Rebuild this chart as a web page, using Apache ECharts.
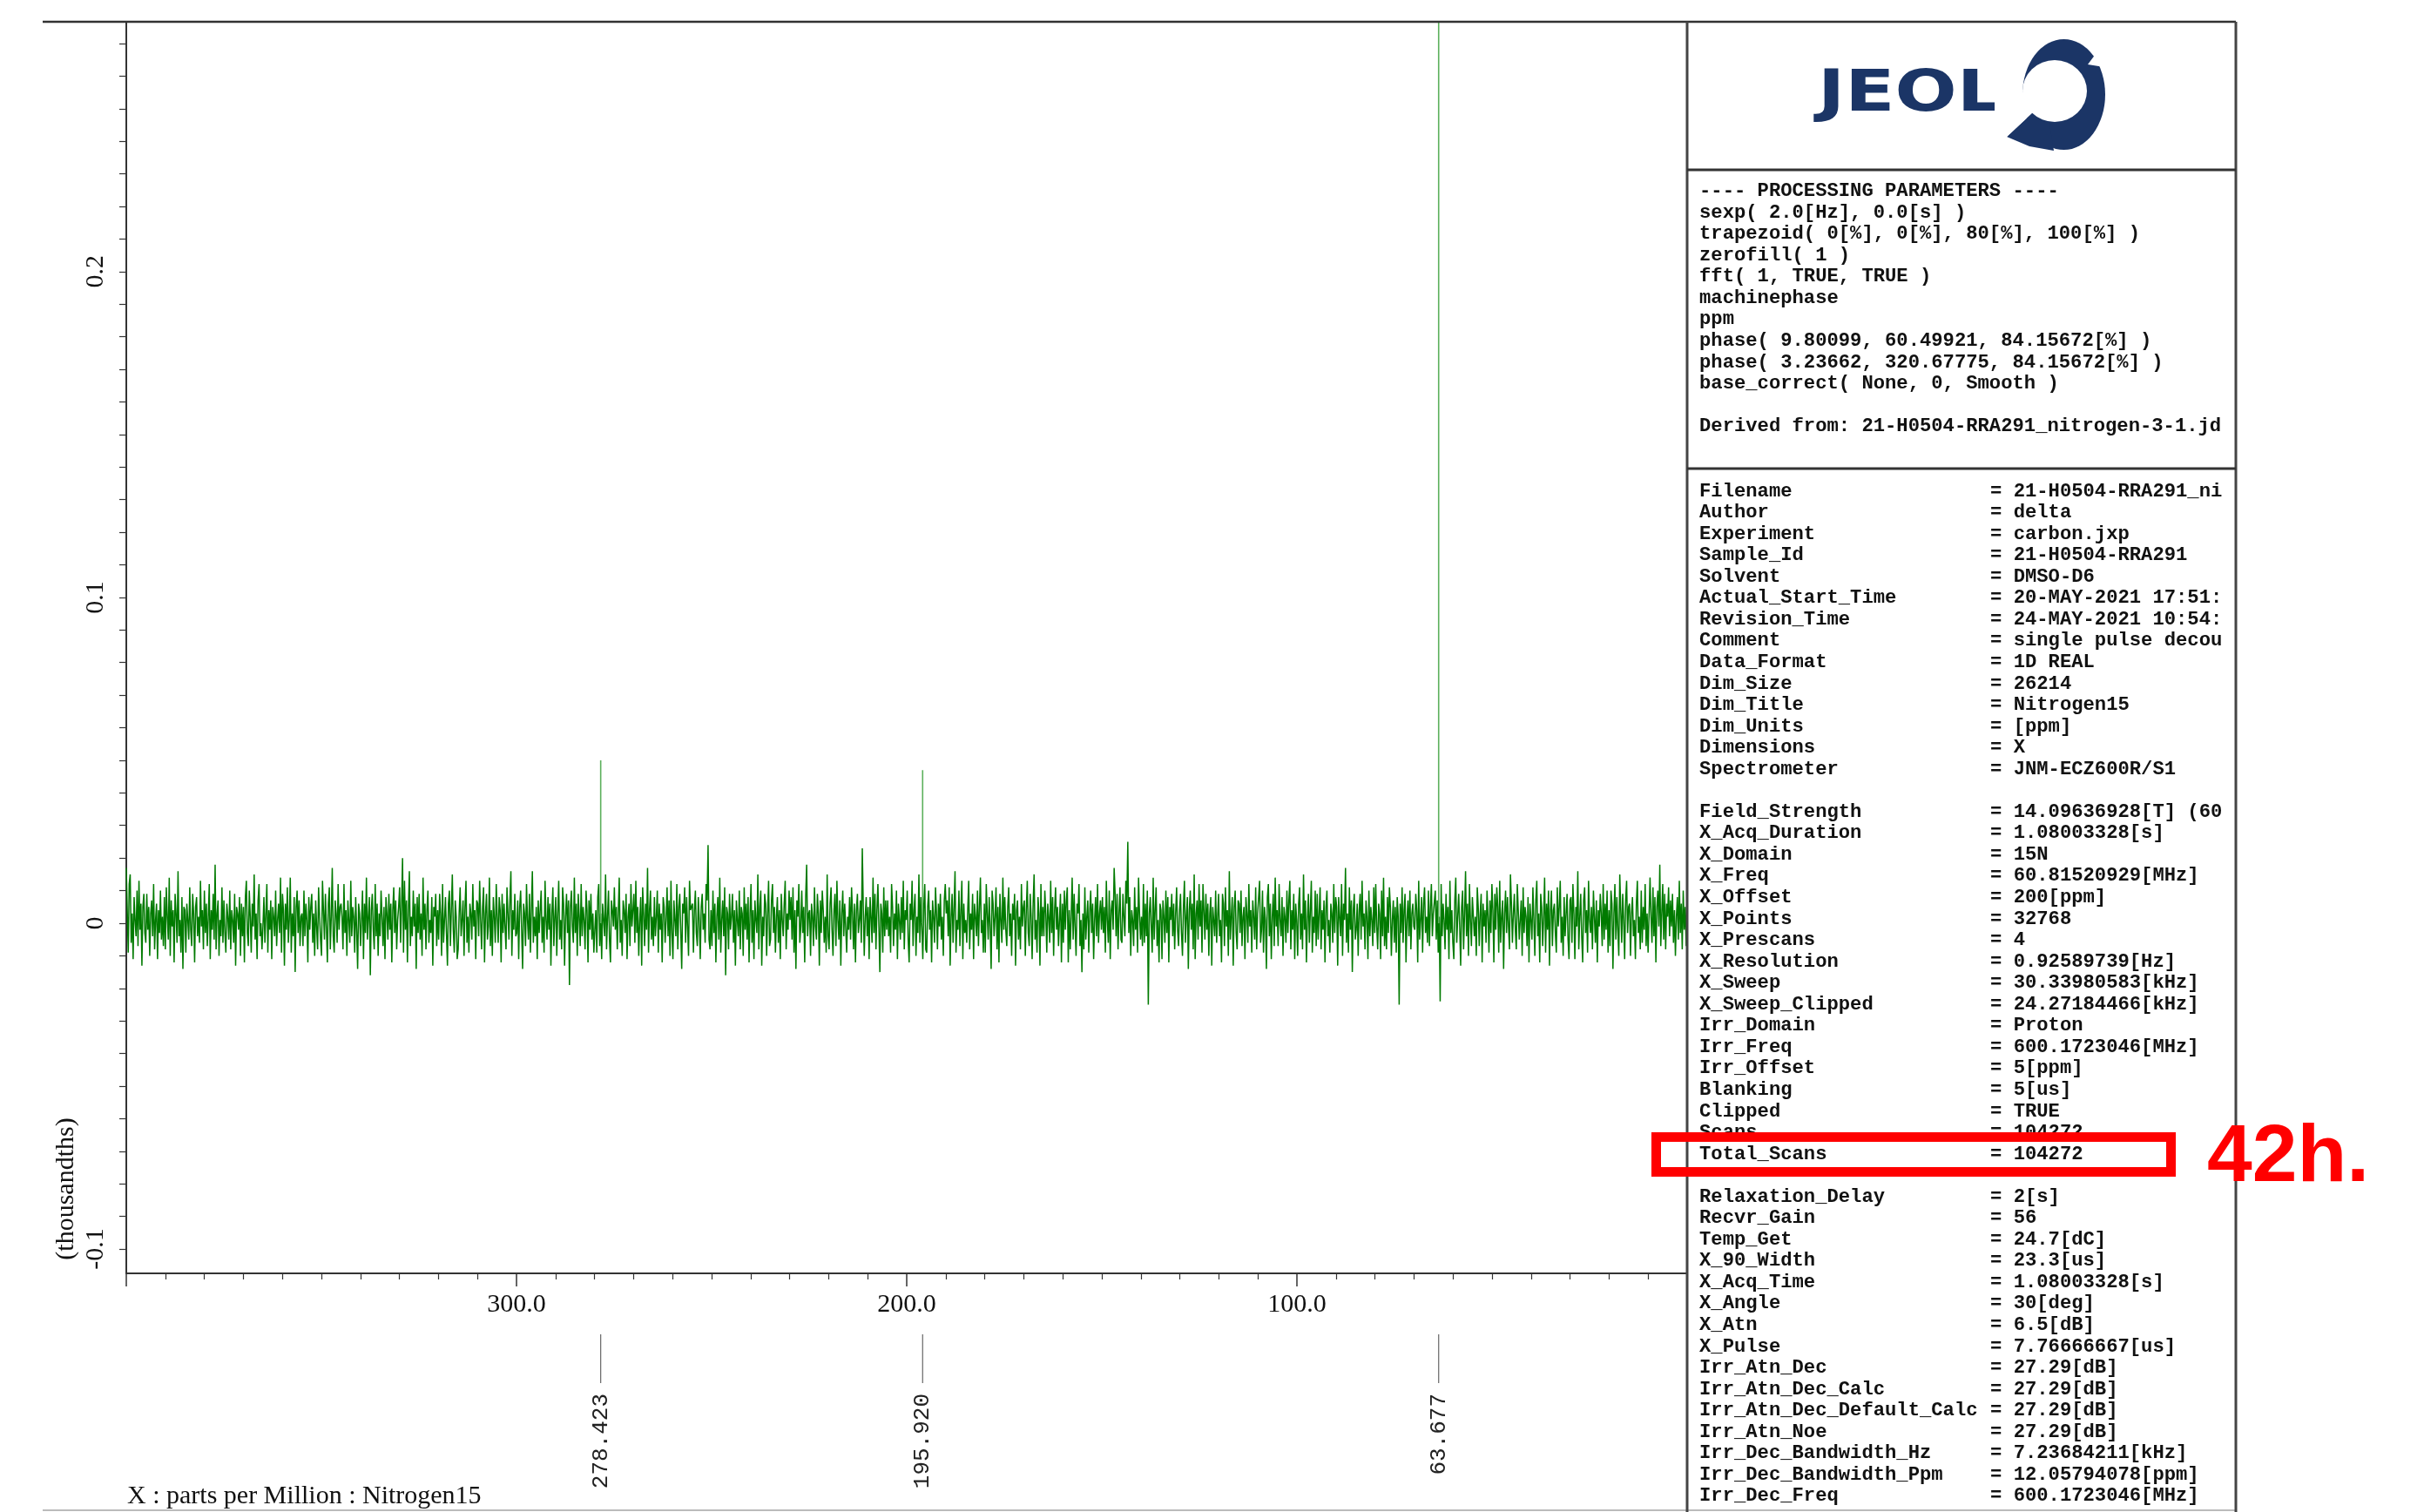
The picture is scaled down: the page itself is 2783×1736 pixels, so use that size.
<!DOCTYPE html>
<html><head><meta charset="utf-8">
<script src="https://cdn.jsdelivr.net/npm/echarts/dist/echarts.min.js"></script>
<style>html,body{margin:0;padding:0;background:#fff}#c{width:2783px;height:1736px}</style>
</head><body><div id="c"></div>
<script>
// ---- data ----
const ppmRange = [0, 400];
const xTickValues = [300, 200, 100];
const yTickValues = [-0.1, 0, 0.1, 0.2];
const peakPpm = [278.423, 195.920, 63.677];
const peakLabels = ['278.423', '195.920', '63.677'];
const peakHeight = [0.050, 0.047, 0.28];
const noise = [
.017,.004,-.009,.012,.015,-.006,.003,-.011,.008,.001,-.004,.010,-.007,.013,-.002,.006,-.013,.005,.009,-.003,
-.006,.009,-.002,.005,-.010,.003,.007,-.004,.012,-.008,.001,.006,-.011,.004,-.003,.010,-.005,.002,-.007,.008,
-.008,.011,.002,-.005,.014,-.010,.007,-.001,.004,-.012,.009,.003,-.006,.016,-.004,.001,-.009,.008,-.014,.005,
.004,-.009,.006,.001,-.005,.011,-.002,-.007,.009,.003,-.012,.005,.008,-.004,.002,-.006,.013,-.001,.004,-.008,
.010,-.003,.006,-.007,.002,.012,-.011,.004,-.002,.009,-.005,.018,-.008,.003,.007,-.010,.001,-.004,.011,-.006,
.007,-.003,-.009,.006,.002,-.005,.010,-.008,.004,.001,-.006,.009,-.013,.005,.003,-.002,.008,-.010,.006,-.004,
.005,-.012,.008,.013,-.003,-.007,.010,.002,-.009,.006,-.001,.015,-.005,.003,-.011,.007,.012,-.004,0,-.008,
-.001,.008,-.006,.003,.012,-.009,.004,-.002,.007,-.011,.005,.002,-.004,.010,-.007,.001,.006,-.003,.014,-.009,
.009,.004,-.013,.006,-.002,.011,-.006,.001,.014,-.009,.003,-.004,.008,-.015,.005,.010,-.003,.007,-.007,.002,
.003,-.007,.010,-.004,.006,.001,-.012,.008,-.002,.005,.009,-.006,.003,-.010,.007,-.001,-.008,.011,.002,-.005,
-.010,.013,.004,-.005,.009,-.001,-.012,.006,.011,-.008,.002,.017,-.004,-.009,.007,.003,-.006,.012,-.002,.005,
.006,.002,-.008,.012,-.003,.004,-.010,.007,.001,-.006,.013,-.004,.005,.002,-.009,.008,-.002,-.014,.006,.003,
-.007,.001,.010,-.011,.006,-.003,.014,-.005,.002,.008,-.016,.004,.009,-.002,-.008,.012,-.004,.006,-.010,.003,
-.004,.010,.002,-.007,.005,-.011,.008,.003,-.005,.009,-.002,.006,-.012,.004,.011,-.003,.007,-.008,.001,.005,
.011,-.006,.005,.020,-.009,.013,-.002,.007,-.012,.004,.016,-.007,.002,-.004,.010,-.001,.006,-.014,.008,-.003,
.009,-.005,.003,-.010,.014,-.002,.006,-.008,.004,.010,-.006,.001,-.003,.008,-.013,.005,.002,.009,-.007,.004,
-.005,.009,.003,-.010,.012,-.006,.001,.008,-.003,-.013,.006,.010,-.007,.004,.015,-.002,-.009,.007,.002,-.011,
-.008,.003,.011,-.004,.001,.007,-.010,.005,.013,-.006,.002,-.009,.006,.003,-.005,.012,-.001,.004,-.011,.007,
.006,-.004,.013,.001,-.008,.005,.011,-.012,.003,.009,-.005,-.001,.014,-.007,.004,-.010,.008,.002,-.006,.012,
.002,-.006,.008,.004,-.012,.009,-.003,.006,-.001,-.008,.011,.003,-.005,.007,.016,-.010,.004,-.002,.009,-.004,
-.003,.007,-.011,.005,.010,-.002,-.014,.006,.003,-.007,.012,.001,-.005,.009,-.009,.004,.016,-.006,.002,-.004,
.005,-.011,.007,-.003,.004,.010,-.006,.002,-.009,.013,.001,-.005,.008,-.002,.006,-.013,.003,.011,-.007,.002,
.008,-.010,.003,.013,-.005,.001,-.008,.011,.006,-.013,.002,.009,-.003,.007,-.019,.005,.010,-.001,-.006,.014,
-.003,.006,-.010,.009,.002,-.007,.012,-.004,.005,.001,-.008,.010,.004,-.012,.007,-.002,.009,-.005,.003,-.009,
-.002,.004,-.009,.008,.012,-.007,.003,-.011,.006,.001,-.004,.015,-.008,.002,.010,-.005,-.012,.007,.004,-.001,
.011,-.002,.005,-.008,.003,.014,-.006,.001,-.010,.007,.004,-.003,.009,-.011,.002,.006,-.007,.012,-.001,.004,
.009,-.006,.013,-.003,.005,-.010,.001,.008,-.013,.011,.003,-.007,.006,-.002,.017,-.009,.004,.010,-.005,.002,
-.007,.008,-.004,.002,.010,-.009,.006,-.002,.003,-.012,.008,.005,-.006,.001,.011,-.004,.007,-.010,.013,-.003,
-.011,.007,.001,-.004,.012,-.008,.005,.009,-.002,-.014,.006,.003,.011,-.006,.008,-.001,-.010,.013,.004,.004,
.006,-.009,.004,.010,-.003,-.007,.008,.001,-.011,.005,.009,-.002,.003,-.006,.012,.007,.024,-.005,-.008,.004,
-.007,.010,-.003,.006,-.012,.002,.008,-.005,.014,-.009,.001,.007,-.004,.011,-.016,.005,.003,-.008,.009,-.002,
.002,.009,-.006,.004,-.013,.007,.001,-.004,.010,-.008,.005,.003,-.010,.011,-.002,.006,-.005,.008,-.012,.003,
.012,-.006,.004,-.011,.007,.001,-.003,.015,-.008,.005,.010,-.013,.002,-.004,.009,.006,-.010,.003,.013,-.007,
-.005,.007,.012,-.003,.005,-.009,.002,.008,-.006,.004,-.011,.009,.001,-.004,.006,.013,-.008,.003,-.002,.010,
.001,.008,-.005,.011,-.009,.004,-.014,.007,.002,.012,-.006,-.001,.010,-.003,.005,-.012,.008,.018,-.004,.003,
.004,-.010,.006,.002,-.007,.011,-.001,-.005,.009,.003,-.013,.007,-.003,.010,.004,-.006,.002,-.009,.015,-.004,
-.008,.006,.011,-.002,-.010,.004,.009,-.007,.013,.001,-.005,.007,-.013,.003,.010,-.004,.006,.006,-.009,.002,
-.002,.008,-.005,.011,.003,-.008,.006,-.012,.004,.009,-.003,.001,.007,-.006,.023,.005,-.010,.002,.008,-.004,
.005,-.011,.008,.002,-.006,.014,-.003,.009,-.008,.004,.012,-.001,-.015,.006,.003,-.009,.011,-.004,.007,-.002,
.007,-.004,.002,-.009,.012,.005,-.007,.003,-.002,.010,-.011,.006,.001,-.005,.008,-.003,.013,-.008,.004,.001,
.010,-.005,-.012,.006,.001,.013,-.007,.004,.009,-.010,.002,-.003,.015,-.006,.008,-.001,-.011,.005,.012,-.008,
-.009,.005,.010,-.002,.004,-.012,.007,.002,-.006,.011,.003,-.008,.006,-.001,.009,-.005,.002,-.010,.007,.012,
.003,.007,-.004,.011,-.013,.002,.009,-.006,.005,.016,-.009,.001,-.002,.010,-.007,.004,.013,-.011,.006,-.003,
.001,-.006,.004,.013,-.008,.003,-.002,.009,-.011,.006,.002,-.004,.010,-.007,.005,.014,-.003,.001,-.009,.006,
-.009,.012,.003,-.005,.008,-.001,-.014,.010,.006,-.004,.002,.011,-.008,.005,-.012,.009,.001,-.006,.014,-.002,
.008,-.002,-.007,.005,.011,-.004,.003,-.010,.006,.001,.009,-.013,.004,.007,-.005,.002,-.008,.012,-.001,.005,
.007,-.010,.004,.013,-.003,-.007,.009,.002,-.011,.006,.015,-.005,.001,-.009,.008,.003,-.013,.012,-.004,.005,
-.004,.010,.003,-.009,.006,.002,-.006,.013,-.003,.008,-.010,.004,.011,-.002,.005,-.007,.001,.009,-.012,.006,
-.006,.010,-.002,.007,.011,-.012,.004,-.008,.002,.014,-.005,.009,-.001,-.010,.006,.003,.012,-.007,.001,-.015,
.003,-.008,.011,-.005,.002,.007,-.009,.004,.010,-.003,.006,-.011,.001,.008,-.004,.012,-.006,.003,.007,-.002,
.008,-.003,.005,-.009,.013,.001,-.006,.010,-.011,.004,.007,-.002,.017,.009,-.004,.009,-.008,.003,.011,-.005,
-.006,.009,.002,-.004,.013,.006,.025,-.003,.008,-.010,.004,.001,-.007,.011,-.002,.005,-.009,.014,.003,-.005,
.002,-.007,.012,-.006,.006,-.004,.010,-.025,.003,.008,-.001,-.009,.014,-.005,.004,.011,-.007,.001,-.012,.006,
.004,-.011,.007,.002,-.006,.010,-.003,.008,-.012,.005,.001,.009,-.004,.006,-.008,.003,.011,-.002,-.007,.004,
.009,-.003,-.010,.005,.013,-.006,.002,.008,-.014,.004,.010,-.002,.006,-.008,.015,-.011,.003,.007,-.005,.012,
-.001,.007,-.009,.012,.004,-.005,.009,-.002,.006,-.010,.003,.008,-.013,.005,.001,-.004,.010,-.006,.002,.009,
-.004,.001,-.012,.009,.006,-.007,.011,-.001,.004,-.010,.016,-.005,.002,.008,-.013,.005,.010,-.003,-.008,.007,
.006,-.003,.010,-.007,.002,.005,-.011,.008,.003,-.006,.012,-.001,.004,-.009,.007,.002,-.005,.011,-.008,.003,
.003,.013,-.006,-.002,.010,-.009,.005,.001,-.014,.008,.012,-.004,.006,-.011,.002,.009,-.007,.014,-.001,.004,
-.007,.012,.001,-.004,.008,-.010,.005,.002,-.006,.010,-.003,.007,.013,-.008,.004,-.002,.009,-.011,.006,.001,
-.010,.006,.011,-.005,.003,-.008,.015,-.002,.007,-.012,.001,.009,-.006,.004,.013,-.009,.002,-.003,.010,-.007,
.009,-.005,.003,.011,-.008,.004,-.002,.007,-.012,.005,.010,-.004,.001,-.009,.006,.003,-.006,.012,-.003,.008,
.005,-.013,.008,.002,-.004,.012,-.010,.006,.001,.017,-.006,.003,-.009,.011,-.002,.007,-.015,.004,.009,-.005,
-.002,.006,-.010,.004,.009,-.005,.013,-.001,.003,-.008,.007,.002,-.011,.010,-.004,.005,.001,-.007,.011,-.003,
.012,-.001,-.008,.006,.003,-.011,.010,-.004,.014,-.007,.002,-.008,.008,-.003,.011,.005,-.010,.001,.007,-.006,
.005,-.009,.008,.002,-.025,.006,-.003,.011,-.006,.004,.009,-.012,.001,.007,-.004,.010,-.008,.003,.006,-.001,
-.002,.009,.004,-.012,.013,-.005,.001,.008,-.009,.006,.011,-.003,.002,-.006,.010,-.007,.005,.012,-.004,.003,
.003,.010,-.005,.007,-.009,.002,-.024,.012,-.004,.006,.001,-.008,.009,-.002,.005,-.011,.013,-.003,.004,-.006,
-.011,.007,.014,-.006,.002,.009,-.001,-.013,.005,.010,-.008,.003,.016,-.004,.006,-.010,.012,.001,-.007,.008,
.008,-.004,.002,-.010,.011,.005,-.007,.003,.009,-.012,.006,-.001,.004,-.006,.010,.002,-.009,.007,-.003,.012,
.004,-.012,.009,-.002,.011,.005,-.009,.013,-.006,.002,.007,-.014,.003,.010,-.003,.008,-.001,-.008,.015,.006,
-.006,.003,.009,-.002,-.008,.012,.004,-.005,.001,.007,-.010,.011,-.003,.005,.002,-.007,.008,-.012,.006,.001,
-.005,.011,.001,-.010,.007,.013,-.004,.003,-.012,.009,.005,-.007,.002,.014,-.009,.006,-.002,.010,-.013,.004,
.010,-.007,.004,.006,-.003,-.009,.011,-.001,.005,.013,-.006,.002,-.010,.008,-.004,.003,.009,-.005,-.011,.007,
.008,-.006,.012,.003,-.011,.005,-.001,.016,-.008,.002,.009,-.004,-.012,.007,.011,-.003,.004,-.009,.013,.001,
-.003,.005,-.008,.010,.002,-.006,.007,-.012,.004,-.001,.009,.003,-.007,.012,-.005,.006,-.002,.010,-.009,.004,
-.007,.010,.006,-.014,.003,.012,-.005,.008,-.002,-.010,.015,.004,-.006,.009,.001,-.011,.007,.013,-.003,.005,
.006,-.010,.003,.008,-.004,.001,-.011,.006,.013,-.003,.002,-.008,.010,-.006,.005,-.002,.012,-.007,.003,-.009,
-.009,.014,.002,-.006,.011,-.004,.008,-.012,.005,.010,-.001,.018,-.007,.003,.012,-.005,.009,-.008,.006,.002,
.011,-.004,.007,-.001,.009,-.006,.004,-.010,.002,.008,-.005,.013,-.003,.006,-.008,.010,-.002,.005,-.007,.009
];
const processingLines = [
'---- PROCESSING PARAMETERS ----',
'sexp( 2.0[Hz], 0.0[s] )',
'trapezoid( 0[%], 0[%], 80[%], 100[%] )',
'zerofill( 1 )',
'fft( 1, TRUE, TRUE )',
'machinephase',
'ppm',
'phase( 9.80099, 60.49921, 84.15672[%] )',
'phase( 3.23662, 320.67775, 84.15672[%] )',
'base_correct( None, 0, Smooth )',
'',
'Derived from: 21-H0504-RRA291_nitrogen-3-1.jd'
];
const paramNames = ['Filename','Author','Experiment','Sample_Id','Solvent','Actual_Start_Time','Revision_Time','Comment','Data_Format','Dim_Size','Dim_Title','Dim_Units','Dimensions','Spectrometer','',
'Field_Strength','X_Acq_Duration','X_Domain','X_Freq','X_Offset','X_Points','X_Prescans','X_Resolution','X_Sweep','X_Sweep_Clipped','Irr_Domain','Irr_Freq','Irr_Offset','Blanking','Clipped','Scans','Total_Scans','',
'Relaxation_Delay','Recvr_Gain','Temp_Get','X_90_Width','X_Acq_Time','X_Angle','X_Atn','X_Pulse','Irr_Atn_Dec','Irr_Atn_Dec_Calc','Irr_Atn_Dec_Default_Calc','Irr_Atn_Noe','Irr_Dec_Bandwidth_Hz','Irr_Dec_Bandwidth_Ppm','Irr_Dec_Freq'];
const paramValues = ['21-H0504-RRA291_ni','delta','carbon.jxp','21-H0504-RRA291','DMSO-D6','20-MAY-2021 17:51:','24-MAY-2021 10:54:','single pulse decou','1D REAL','26214','Nitrogen15','[ppm]','X','JNM-ECZ600R/S1','',
'14.09636928[T] (60','1.08003328[s]','15N','60.81520929[MHz]','200[ppm]','32768','4','0.92589739[Hz]','30.33980583[kHz]','24.27184466[kHz]','Proton','600.1723046[MHz]','5[ppm]','5[us]','TRUE','104272','104272','',
'2[s]','56','24.7[dC]','23.3[us]','1.08003328[s]','30[deg]','6.5[dB]','7.76666667[us]','27.29[dB]','27.29[dB]','27.29[dB]','27.29[dB]','7.23684211[kHz]','12.05794078[ppm]','600.1723046[MHz]'];
const annotationText = '42h.';

// ---- chart ----
const serif = 'Liberation Serif';
const step = (ppmRange[1] - ppmRange[0]) / (noise.length - 1);
const noiseData = noise.map((v, i) => [ppmRange[1] - i * step, v]);
const peakSeries = peakPpm.map((p, k) => ({
  type: 'line', xAxisIndex: 0, yAxisIndex: 0, symbol: 'none', silent: true, z: 3,
  lineStyle: { color: '#5cb05c', width: 1.6 },
  data: [[p, 0], [p, peakHeight[k]]]
}));

const chart = echarts.init(document.getElementById('c'));
chart.setOption({
  animation: false,
  backgroundColor: '#fff',
  grid: [
    { left: 145, top: 25, width: 1792, height: 1437, containLabel: false, outerBoundsMode: 'none' },
    { left: 145, top: 50, width: 1792, height: 1384, containLabel: false, outerBoundsMode: 'none' }
  ],
  xAxis: [
    { gridIndex: 0, type: 'value', min: ppmRange[0], max: ppmRange[1], inverse: true, interval: 100,
      axisLine: { onZero: false, lineStyle: { color: '#333', width: 2 } },
      axisTick: { show: true, inside: false, length: 15, lineStyle: { color: '#333', width: 1.5 } },
      minorTick: { show: true, splitNumber: 10, length: 7, lineStyle: { color: '#333', width: 1.2 } },
      splitLine: { show: false }, minorSplitLine: { show: false },
      axisLabel: { margin: 21, fontFamily: serif, fontSize: 30, color: '#111',
        formatter: v => xTickValues.includes(Math.round(v)) ? v.toFixed(1) : '' } },
    { gridIndex: 1, type: 'value', show: false, min: 0, max: 1 }
  ],
  yAxis: [
    { gridIndex: 0, type: 'value', min: -0.10747, max: 0.27670,
      axisLine: { show: true, onZero: false, lineStyle: { color: '#333', width: 2 } },
      axisTick: { show: false }, axisLabel: { show: false }, splitLine: { show: false } },
    { gridIndex: 1, type: 'value', min: -0.1, max: 0.27, interval: 0.01,
      axisLine: { show: false, onZero: false },
      axisTick: { show: true, inside: false, length: 8, lineStyle: { color: '#333', width: 1.2 } },
      splitLine: { show: false },
      axisLabel: { rotate: 90, margin: 20, fontFamily: serif, fontSize: 30, color: '#111',
        formatter: v => { const k = Math.round(v * 100);
          const hit = yTickValues.find(t => Math.round(t * 100) === k);
          return hit === undefined ? '' : String(hit); } } }
  ],
  series: [
    { type: 'line', xAxisIndex: 0, yAxisIndex: 0, symbol: 'none', silent: true,
      lineStyle: { color: '#007a00', width: 1.5 }, data: noiseData, z: 2 }
  ].concat(peakSeries)
});

// ---- decorations ----
const els = [];
const L = (x1, y1, x2, y2, stroke, w) => els.push({ type: 'line', z: 50, silent: true, shape: { x1, y1, x2, y2 }, style: { stroke, lineWidth: w } });
L(49, 25, 2567, 25, '#333', 2.5);
L(49, 1734, 2567, 1734, '#bbb', 2);
L(1937, 25, 1937, 1736, '#444', 3);
L(2567, 25, 2567, 1736, '#444', 3);
L(1937, 195, 2567, 195, '#333', 3);
L(1937, 538, 2567, 538, '#333', 3);

// axis titles
els.push({ type: 'text', z: 50, x: 76, y: 1365, rotation: Math.PI / 2,
  style: { text: '(thousandths)', font: '30px "Liberation Serif"', fill: '#111', align: 'center', verticalAlign: 'middle', textAlign: 'center', textVerticalAlign: 'middle' } });
els.push({ type: 'text', z: 50, x: 146, y: 1718,
  style: { text: 'X : parts per Million : Nitrogen15', font: '30px "Liberation Serif"', fill: '#111', align: 'left', verticalAlign: 'middle', textAlign: 'left', textVerticalAlign: 'middle' } });

// peak annotations placed via axis scale
peakPpm.forEach((p, k) => {
  const x = chart.convertToPixel({ xAxisIndex: 0 }, p);
  L(x, 1532, x, 1588, '#666', 1.2);
  els.push({ type: 'text', z: 50, x: x, y: 1600, rotation: Math.PI / 2,
    style: { text: peakLabels[k], font: '26px "Liberation Mono"', fill: '#222', align: 'right', verticalAlign: 'middle', textAlign: 'right', textVerticalAlign: 'middle' } });
});

// logo
const navy = '#1b3566';
els.push({ type: 'text', z: 50, x: 2087, y: 110, scaleX: 1.27,
  style: { text: 'JEOL', font: 'bold 66px "DejaVu Sans"', fill: navy, align: 'left', verticalAlign: 'middle', textAlign: 'left', textVerticalAlign: 'middle' } });
els.push({ type: 'circle', z: 50, x: 2369.5, y: 108.5, scaleX: 47.5 / 63.5, shape: { cx: 0, cy: 0, r: 63.5 }, style: { fill: navy } });
els.push({ type: 'polygon', z: 50, shape: { points: [[2334, 129], [2304, 157], [2330, 168], [2358, 173], [2352, 136]] }, style: { fill: navy } });
els.push({ type: 'circle', z: 51, x: 2359, y: 104.5, scaleX: 37 / 35.5, shape: { cx: 0, cy: 0, r: 35.5 }, style: { fill: '#fff' } });
els.push({ type: 'polygon', z: 51, shape: { points: [[2334, 129], [2304, 157], [2290, 157], [2290, 106], [2330, 106]] }, style: { fill: '#fff' } });
els.push({ type: 'polygon', z: 52, shape: { points: [[2412, 54], [2397, 74], [2422, 78], [2430, 58]] }, style: { fill: '#fff' } });

// processing parameters text
const txtStyle = (text) => ({ text, font: 'bold 22.2px "Liberation Mono"', fill: '#111', lineHeight: 24.55, align: 'left', verticalAlign: 'top', textAlign: 'left', textVerticalAlign: 'top' });
els.push({ type: 'text', z: 50, x: 1951, y: 207.3, style: txtStyle(processingLines.join('\n')) });
els.push({ type: 'text', z: 50, x: 1951, y: 551.7, style: txtStyle(paramNames.join('\n')) });
els.push({ type: 'text', z: 50, x: 2285, y: 551.7, style: txtStyle(paramValues.map(v => v === '' ? '' : '= ' + v).join('\n')) });

// red highlight
els.push({ type: 'rect', z: 60, shape: { x: 1901.5, y: 1305.5, width: 591, height: 40 }, style: { fill: 'none', stroke: '#ff0000', lineWidth: 11 } });
els.push({ type: 'text', z: 60, x: 2534, y: 1330,
  style: { text: annotationText, font: 'bold 93px "Liberation Sans"', fill: '#ff0000', align: 'left', verticalAlign: 'middle', textAlign: 'left', textVerticalAlign: 'middle' } });

chart.setOption({ graphic: { elements: els } });
</script>
</body></html>
